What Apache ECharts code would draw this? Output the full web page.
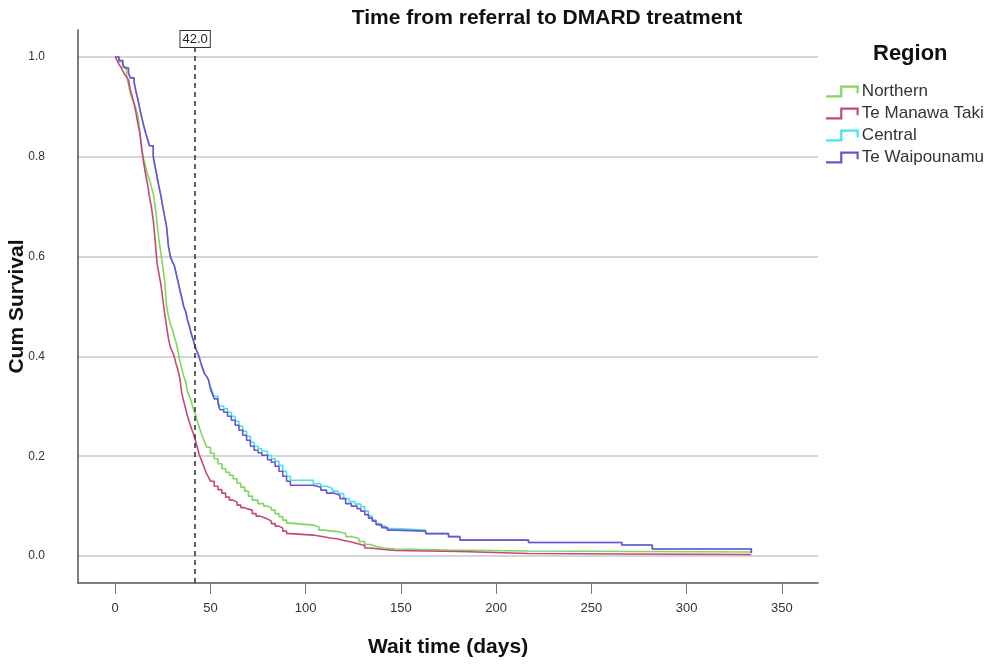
<!DOCTYPE html>
<html>
<head>
<meta charset="utf-8">
<title>Time from referral to DMARD treatment</title>
<script src="https://cdn.jsdelivr.net/npm/echarts@6/dist/echarts.min.js"></script>
<style>
    html, body { margin: 0; padding: 0; background: #fff; }
    #main { width: 991px; height: 664px; }
</style>
</head>
<body>
<div id="main"></div>
<script>
    // 各区域的生存曲线 [天数, 累计生存率]
    var northern = [
        [0,1.0],[2,0.99],[4,0.98],[6,0.96],[7,0.945],[8,0.927],[9,0.915],[10,0.907],[11,0.895],[12,0.88],
        [13,0.85],[14,0.814],[15,0.795],[16,0.78],[17,0.765],[18,0.755],[19,0.74],[20,0.727],[21,0.7],[22,0.667],
        [23,0.633],[24,0.607],[25,0.58],[26,0.55],[27,0.5],[28,0.48],[29,0.465],[30,0.455],[31,0.44],[32,0.428],
        [33,0.41],[34,0.39],[35,0.375],[36,0.36],[37,0.35],[38,0.33],[39,0.32],[40,0.31],[41,0.295],[42,0.285],
        [43,0.272],[44,0.26],[45,0.248],[46,0.238],[47,0.228],[48,0.218],[50,0.206],[52,0.195],[54,0.185],[56,0.175],
        [58,0.168],[60,0.162],[62,0.155],[64,0.146],[66,0.138],[68,0.13],[70,0.12],[72,0.112],[75,0.105],[78,0.1],
        [80,0.097],[82,0.092],[84,0.085],[86,0.079],[88,0.072],[90,0.066],[92,0.062],[104,0.058],[107,0.052],[110,0.05],
        [114,0.049],[117,0.045],[121,0.039],[124,0.035],[128,0.029],[131,0.023],[134,0.019],[137,0.016],[141,0.014],[147,0.012],
        [175,0.01],[217,0.008],[334,0.006]
    ];
    var teManawaTaki = [
        [0,1.0],[1,0.993],[2,0.985],[3,0.98],[4,0.972],[5,0.965],[6,0.96],[7,0.954],[8,0.934],[9,0.92],
        [10,0.905],[11,0.887],[12,0.865],[13,0.847],[14,0.815],[15,0.787],[16,0.765],[17,0.745],[18,0.72],[19,0.7],
        [20,0.673],[21,0.633],[22,0.587],[23,0.565],[24,0.545],[25,0.515],[26,0.486],[27,0.46],[28,0.435],[29,0.418],
        [30,0.41],[31,0.4],[32,0.385],[33,0.373],[34,0.355],[35,0.326],[36,0.31],[37,0.295],[38,0.28],[39,0.268],
        [40,0.256],[41,0.246],[42,0.233],[43,0.22],[44,0.205],[45,0.195],[46,0.185],[47,0.175],[48,0.165],[49,0.158],
        [50,0.15],[52,0.14],[54,0.133],[56,0.126],[58,0.118],[60,0.112],[62,0.108],[64,0.102],[66,0.097],[68,0.094],
        [70,0.092],[72,0.085],[74,0.08],[76,0.077],[78,0.074],[80,0.07],[82,0.065],[84,0.06],[86,0.056],[88,0.05],
        [90,0.045],[92,0.042],[104,0.04],[107,0.036],[113,0.034],[117,0.031],[120,0.028],[124,0.025],[127,0.021],[131,0.016],
        [134,0.013],[141,0.011],[147,0.009],[181,0.005],[217,0.004],[266,0.003],[334,0.002]
    ];
    var central = [
        [0,1.0],[2,0.993],[4,0.985],[5,0.978],[7,0.968],[8,0.958],[10,0.948],[11,0.93],[12,0.914],[13,0.895],
        [14,0.878],[15,0.862],[16,0.848],[17,0.835],[18,0.822],[20,0.8],[21,0.78],[22,0.76],[23,0.74],[24,0.722],
        [25,0.7],[26,0.68],[27,0.66],[28,0.62],[29,0.6],[30,0.59],[31,0.583],[32,0.567],[33,0.55],[34,0.533],
        [35,0.517],[36,0.5],[37,0.49],[38,0.473],[39,0.46],[40,0.445],[41,0.433],[42,0.42],[43,0.41],[44,0.4],
        [45,0.387],[46,0.375],[47,0.365],[48,0.36],[49,0.353],[50,0.34],[51,0.33],[52,0.32],[54,0.31],[55,0.3],
        [57,0.295],[59,0.288],[61,0.28],[63,0.27],[65,0.26],[67,0.25],[69,0.24],[71,0.228],[73,0.22],[75,0.215],
        [77,0.21],[80,0.202],[82,0.195],[84,0.19],[86,0.182],[88,0.17],[90,0.16],[92,0.152],[104,0.145],[108,0.14],
        [111,0.136],[114,0.13],[117,0.125],[120,0.115],[123,0.109],[126,0.104],[129,0.099],[131,0.09],[133,0.08],[135,0.072],
        [137,0.065],[139,0.06],[142,0.055],[147,0.052],[163,0.045],[175,0.039],[181,0.032],[217,0.027],[266,0.022],[282,0.014],
        [334,0.006]
    ];
    var teWaipounamu = [
        [0,1.0],[2,0.993],[4,0.985],[5,0.978],[7,0.968],[8,0.958],[10,0.948],[11,0.93],[12,0.914],[13,0.895],
        [14,0.878],[15,0.862],[16,0.848],[17,0.835],[18,0.822],[20,0.8],[21,0.78],[22,0.76],[23,0.74],[24,0.722],
        [25,0.7],[26,0.68],[27,0.66],[28,0.62],[29,0.6],[30,0.59],[31,0.583],[32,0.567],[33,0.55],[34,0.533],
        [35,0.517],[36,0.5],[37,0.49],[38,0.473],[39,0.46],[40,0.445],[41,0.433],[42,0.42],[43,0.41],[44,0.4],
        [45,0.387],[46,0.375],[47,0.365],[48,0.36],[49,0.353],[50,0.335],[51,0.325],[52,0.315],[54,0.305],[55,0.293],
        [57,0.288],[59,0.28],[61,0.272],[63,0.262],[65,0.252],[67,0.242],[69,0.232],[71,0.22],[73,0.212],[75,0.207],
        [77,0.202],[80,0.193],[82,0.188],[84,0.18],[86,0.17],[88,0.16],[90,0.15],[92,0.142],[104,0.138],[108,0.132],
        [111,0.126],[115,0.122],[118,0.115],[121,0.105],[124,0.1],[127,0.095],[129,0.09],[131,0.083],[133,0.076],[135,0.07],
        [137,0.063],[140,0.057],[143,0.052],[147,0.05],[163,0.045],[175,0.039],[181,0.032],[217,0.027],[266,0.022],[282,0.014],
        [334,0.006]
    ];

    var regionNames = ['Northern', 'Te Manawa Taki', 'Central', 'Te Waipounamu'];
    var regionColors = ['#7fd75f', '#c8467a', '#44e4ea', '#7650cc'];
    var regionData = [northern, teManawaTaki, central, teWaipounamu];

    var xTicks = [0, 50, 100, 150, 200, 250, 300, 350];
    var yTicks = [0, 0.2, 0.4, 0.6, 0.8, 1.0];
    var medianDay = 42;

    // 图例里的阶梯小图标
    var stepIcon = 'path://M0,9 L13,9 L13,0 L30,0 L30,7 L28,7 L28,2 L15,2 L15,11 L0,11 Z';

    var series = [];
    for (var i = 0; i < regionNames.length; i++) {
        series.push({
            name: regionNames[i],
            type: 'line',
            step: 'end',
            showSymbol: false,
            symbol: 'none',
            silent: true,
            data: regionData[i],
            lineStyle: { color: regionColors[i], width: 1.6 },
            itemStyle: { color: regionColors[i] }
        });
    }
    // 42.0 的参考线
    series[0].markLine = {
        silent: true,
        symbol: 'none',
        animation: false,
        lineStyle: { color: '#3a3a3a', type: [5, 4], width: 1.6 },
        label: {
            show: true,
            position: 'end',
            distance: 0,
            formatter: medianDay.toFixed(1),
            color: '#222',
            fontFamily: 'Liberation Sans',
            fontSize: 13,
            backgroundColor: '#fff',
            borderColor: '#333',
            borderWidth: 1,
            padding: [2, 2, 1, 2]
        },
        data: [[{ coord: [medianDay, -0.054] }, { coord: [medianDay, 1.02] }]]
    };

    var myChart = echarts.init(document.getElementById('main'));
    var option = {
        animation: false,
        backgroundColor: '#fff',
        title: [{
            text: 'Time from referral to DMARD treatment',
            left: 542,
            top: 3,
            textAlign: 'center',
            textStyle: { fontFamily: 'Liberation Sans', fontWeight: 'bold', fontSize: 21, color: '#111' }
        }, {
            text: 'Region',
            left: 868,
            top: 38,
            textStyle: { fontFamily: 'Liberation Sans', fontWeight: 'bold', fontSize: 22, color: '#111' }
        }],
        legend: {
            orient: 'vertical',
            left: 821,
            top: 78,
            itemWidth: 33,
            itemHeight: 12,
            itemGap: 5,
            icon: stepIcon,
            data: regionNames,
            textStyle: { fontFamily: 'Liberation Sans', fontSize: 17, color: '#333', lineHeight: 17, padding: [0, 0, 0, -2] }
        },
        grid: { left: 78, right: 173, top: 30, bottom: 81, containLabel: false, outerBoundsMode: 'none' },
        xAxis: {
            type: 'value',
            min: -19.5,
            max: 369,
            name: 'Wait time (days)',
            nameLocation: 'middle',
            nameGap: 54,
            nameMoveOverlap: false,
            nameTextStyle: { fontFamily: 'Liberation Sans', fontWeight: 'bold', fontSize: 21, color: '#111' },
            axisLine: { onZero: false, lineStyle: { color: '#555', width: 1.5 } },
            axisTick: { show: true, length: 11, customValues: xTicks, lineStyle: { color: '#777' } },
            axisLabel: {
                customValues: xTicks,
                margin: 19,
                fontFamily: 'Liberation Sans',
                fontSize: 13,
                color: '#333'
            },
            splitLine: { show: false }
        },
        yAxis: {
            type: 'value',
            min: -0.054,
            max: 1.054,
            name: 'Cum Survival',
            nameLocation: 'middle',
            nameGap: 50,
            nameMoveOverlap: false,
            nameTextStyle: { fontFamily: 'Liberation Sans', fontWeight: 'bold', fontSize: 21, color: '#111' },
            axisLine: { show: true, onZero: false, lineStyle: { color: '#555', width: 1.5 } },
            axisTick: { show: false, customValues: yTicks },
            axisLabel: {
                customValues: yTicks,
                margin: 33,
                fontFamily: 'Liberation Sans',
                fontSize: 12,
                color: '#333',
                formatter: function (v) { return v.toFixed(1); }
            },
            splitLine: { show: true, lineStyle: { color: '#c9c9c9', width: 1.5 } }
        },
        series: series
    };
    myChart.setOption(option);
</script>
</body>
</html>
